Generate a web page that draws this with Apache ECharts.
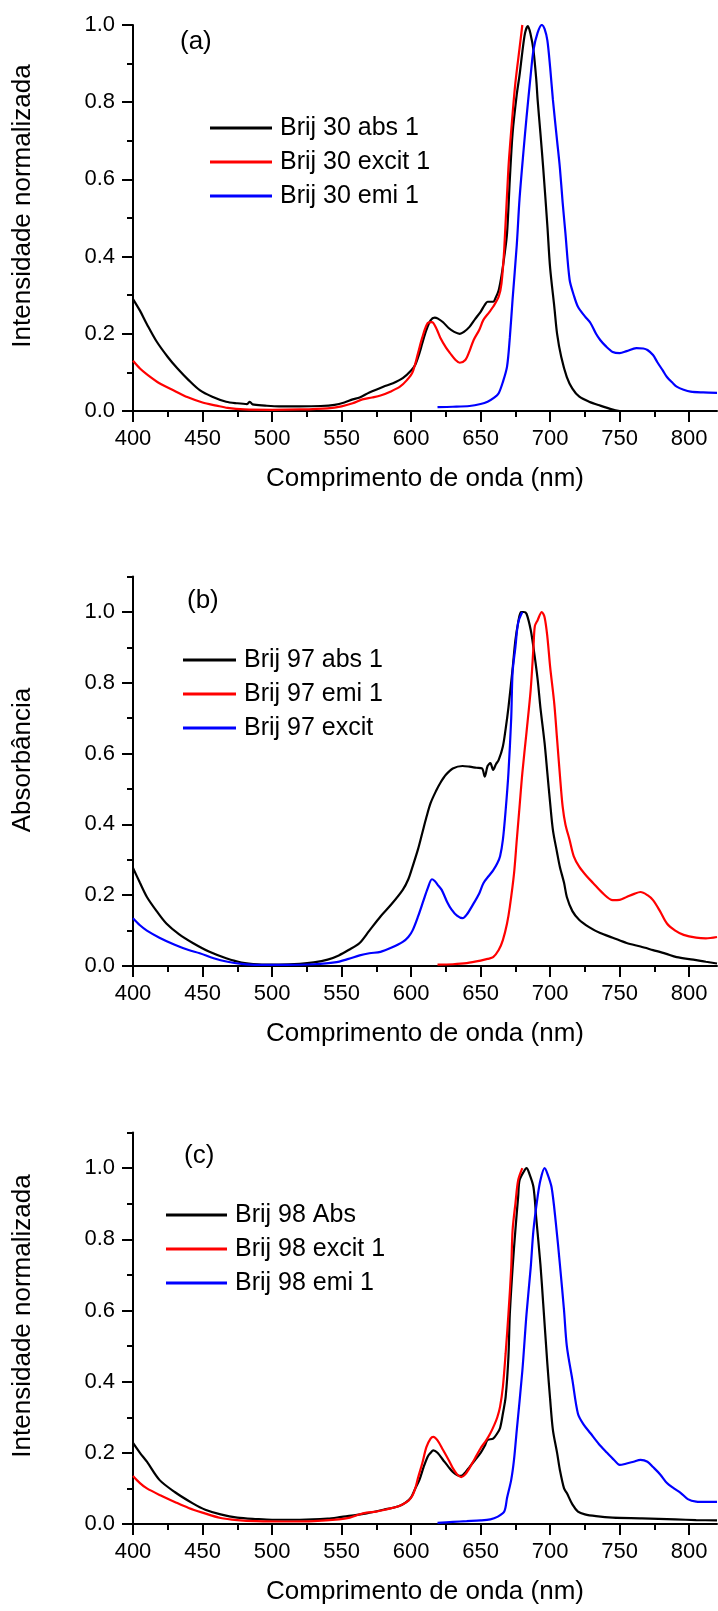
<!DOCTYPE html>
<html>
<head>
<meta charset="utf-8">
<script src="https://cdn.jsdelivr.net/npm/echarts@6/dist/echarts.min.js"></script>
<style>
html,body{margin:0;padding:0;background:#fff}
#main{width:718px;height:1611px}
</style>
</head>
<body>
<div id="main"></div>
<script>
// ---- tick positions
var xTicks = [400, 450, 500, 550, 600, 650, 700, 750, 800];
var xMinor = [425, 475, 525, 575, 625, 675, 725, 775];
var yTicks = [0, 0.2, 0.4, 0.6, 0.8, 1.0];
var yMinorA = [0.1, 0.3, 0.5, 0.7, 0.9];
var yMinorBC = [0.1, 0.3, 0.5, 0.7, 0.9, 1.1];

// ---- panel (a) Brij 30
var absA = [[400,0.29],[405,0.26],[410,0.225],[417,0.18],[425,0.14],[432,0.11],[440,0.08],[448,0.054],[457,0.037],[467,0.024],[475,0.02],[482,0.018],[484,0.024],[486,0.017],[495,0.014],[505,0.012],[520,0.012],[535,0.013],[545,0.016],[552,0.022],[558,0.03],[563,0.035],[570,0.048],[580,0.063],[587,0.072],[594,0.085],[600,0.105],[603,0.12],[606,0.15],[608,0.175],[611,0.21],[614,0.235],[617,0.242],[619,0.24],[623,0.23],[627,0.215],[631,0.205],[635,0.2],[638,0.205],[642,0.218],[646,0.238],[650,0.257],[653,0.275],[655,0.283],[659,0.283],[661,0.295],[663,0.313],[665,0.35],[667,0.4],[669,0.46],[671,0.6],[673,0.72],[676,0.82],[678,0.87],[680,0.93],[682,0.98],[684,0.997],[686,0.975],[688,0.935],[690,0.86],[691,0.806],[693,0.72],[695,0.63],[698,0.48],[700,0.37],[703,0.27],[705,0.2],[708,0.14],[712,0.088],[716,0.058],[721,0.037],[728,0.024],[736,0.014],[745,0.004],[750,0.0]];
var excA = [[400,0.13],[405,0.11],[410,0.095],[419,0.072],[430,0.052],[439,0.036],[450,0.022],[460,0.014],[468,0.008],[480,0.004],[500,0.003],[520,0.004],[540,0.007],[550,0.012],[558,0.02],[565,0.03],[572,0.035],[578,0.04],[585,0.05],[592,0.063],[597,0.08],[601,0.1],[605,0.15],[608,0.19],[612,0.228],[615,0.23],[618,0.215],[621,0.19],[625,0.165],[628,0.15],[632,0.132],[635,0.125],[639,0.132],[642,0.155],[645,0.184],[649,0.21],[652,0.236],[656,0.255],[659,0.27],[663,0.296],[665,0.33],[667,0.42],[670,0.63],[673,0.77],[675,0.85],[678,0.94],[680,1.0]];
var emiA = [[619,0.01],[630,0.011],[642,0.013],[650,0.018],[655,0.024],[660,0.035],[663,0.046],[666,0.075],[669,0.115],[671,0.19],[673,0.29],[676,0.43],[678,0.55],[681,0.68],[683,0.76],[686,0.87],[688,0.935],[691,0.98],[694,1.0],[696,0.99],[698,0.96],[700,0.89],[702,0.806],[705,0.7],[707,0.63],[709,0.54],[711,0.46],[714,0.34],[717,0.3],[720,0.27],[725,0.245],[729,0.228],[733,0.2],[736,0.184],[740,0.168],[745,0.153],[750,0.15],[755,0.155],[762,0.163],[767,0.162],[770,0.158],[774,0.145],[777,0.127],[781,0.105],[784,0.088],[788,0.073],[791,0.063],[796,0.055],[801,0.05],[810,0.048],[820,0.047]];

// ---- panel (b) Brij 97
var absB = [[400,0.277],[405,0.235],[410,0.195],[417,0.155],[424,0.12],[433,0.09],[443,0.065],[455,0.04],[467,0.022],[478,0.01],[490,0.005],[505,0.004],[520,0.006],[530,0.01],[540,0.018],[548,0.03],[555,0.045],[563,0.065],[570,0.1],[578,0.14],[586,0.175],[594,0.215],[598,0.245],[601,0.28],[605,0.33],[608,0.375],[611,0.42],[614,0.46],[618,0.495],[621,0.517],[625,0.54],[630,0.558],[637,0.565],[642,0.563],[647,0.56],[651,0.558],[653,0.535],[655,0.565],[657,0.573],[659,0.554],[661,0.57],[663,0.582],[666,0.62],[668,0.67],[670,0.73],[673,0.84],[675,0.92],[677,0.97],[679,1.0],[681,1.0],[683,0.995],[686,0.95],[688,0.9],[691,0.81],[693,0.73],[696,0.63],[698,0.545],[700,0.46],[702,0.384],[705,0.32],[707,0.28],[710,0.235],[712,0.195],[716,0.155],[721,0.13],[728,0.11],[736,0.093],[745,0.08],[755,0.065],[765,0.055],[774,0.045],[783,0.035],[791,0.025],[803,0.018],[812,0.012],[820,0.007]];
var emiB = [[619,0.004],[630,0.005],[640,0.008],[650,0.015],[655,0.02],[659,0.025],[663,0.045],[666,0.073],[669,0.12],[671,0.167],[674,0.26],[676,0.356],[678,0.45],[680,0.545],[683,0.66],[686,0.78],[688,0.9],[689,0.96],[691,0.977],[694,1.0],[696,0.985],[698,0.93],[700,0.845],[703,0.74],[705,0.64],[707,0.54],[709,0.45],[711,0.4],[714,0.356],[717,0.31],[721,0.28],[726,0.255],[731,0.234],[738,0.205],[745,0.186],[750,0.187],[755,0.195],[760,0.203],[765,0.209],[770,0.2],[774,0.186],[779,0.155],[784,0.12],[790,0.1],[796,0.088],[805,0.08],[812,0.078],[820,0.082]];
var excB = [[400,0.135],[405,0.115],[410,0.1],[419,0.08],[430,0.06],[440,0.045],[448,0.036],[458,0.022],[468,0.012],[478,0.006],[490,0.003],[510,0.003],[530,0.005],[545,0.01],[555,0.02],[563,0.03],[570,0.036],[578,0.04],[586,0.052],[594,0.068],[598,0.082],[601,0.1],[605,0.14],[609,0.186],[612,0.22],[615,0.245],[617,0.24],[619,0.23],[622,0.215],[626,0.18],[629,0.16],[633,0.142],[637,0.135],[640,0.145],[645,0.177],[649,0.205],[652,0.234],[656,0.255],[659,0.27],[662,0.29],[664,0.31],[666,0.356],[668,0.44],[670,0.545],[672,0.7],[673,0.83],[675,0.9],[677,0.97],[680,1.0]];

// ---- panel (c) Brij 98
var absC = [[400,0.228],[405,0.2],[410,0.175],[419,0.124],[430,0.09],[443,0.058],[452,0.04],[463,0.027],[475,0.018],[489,0.014],[500,0.012],[520,0.012],[540,0.015],[550,0.02],[560,0.025],[568,0.03],[580,0.04],[591,0.05],[596,0.06],[600,0.075],[603,0.1],[606,0.124],[609,0.16],[612,0.19],[614,0.2],[616,0.207],[619,0.2],[623,0.18],[627,0.16],[630,0.146],[633,0.138],[636,0.135],[639,0.145],[642,0.16],[646,0.18],[650,0.2],[653,0.22],[655,0.236],[659,0.24],[662,0.255],[664,0.27],[666,0.31],[668,0.357],[670,0.47],[671,0.59],[673,0.72],[675,0.826],[677,0.92],[678,0.966],[681,0.99],[683,1.0],[685,0.985],[688,0.947],[690,0.86],[693,0.73],[695,0.62],[698,0.45],[700,0.35],[702,0.264],[705,0.2],[707,0.152],[710,0.1],[712,0.087],[716,0.055],[720,0.035],[725,0.027],[733,0.022],[745,0.018],[766,0.016],[790,0.013],[805,0.011],[820,0.01]];
var excC = [[400,0.135],[405,0.115],[410,0.1],[420,0.08],[430,0.062],[440,0.045],[450,0.032],[463,0.017],[475,0.011],[489,0.008],[510,0.007],[530,0.008],[548,0.013],[556,0.018],[562,0.026],[568,0.032],[575,0.035],[583,0.042],[591,0.05],[598,0.065],[601,0.08],[603,0.1],[605,0.13],[608,0.17],[611,0.216],[614,0.24],[616,0.245],[619,0.235],[623,0.208],[627,0.18],[630,0.157],[633,0.14],[636,0.132],[639,0.14],[642,0.157],[646,0.185],[650,0.213],[654,0.235],[657,0.255],[660,0.28],[662,0.3],[664,0.33],[666,0.385],[668,0.48],[670,0.59],[672,0.72],[673,0.826],[675,0.9],[677,0.966],[680,1.0]];
var emiC = [[619,0.003],[630,0.006],[640,0.008],[650,0.01],[657,0.013],[662,0.02],[667,0.035],[669,0.073],[672,0.124],[674,0.18],[676,0.264],[680,0.43],[683,0.59],[686,0.72],[688,0.826],[691,0.92],[693,0.966],[696,1.0],[698,0.985],[701,0.947],[704,0.85],[707,0.73],[710,0.6],[712,0.5],[716,0.405],[720,0.31],[724,0.28],[729,0.255],[735,0.225],[741,0.2],[746,0.18],[750,0.166],[755,0.17],[760,0.175],[765,0.18],[770,0.175],[774,0.16],[779,0.14],[784,0.115],[789,0.1],[794,0.087],[799,0.07],[805,0.063],[812,0.062],[820,0.062]];

var FONT = 'Liberation Sans, Arial, sans-serif';

// one entry per panel
var panels = [
    {tag: '(a)', tagPos: [180, 29], yName: 'Intensidade normalizada', yNameY: 206, top: 25, h: 386, ymax: 1.0, yMinor: yMinorA,
     legendPos: [210, 115], iconW: 62,
     series: [['Brij 30 abs 1', '#000000', absA], ['Brij 30 excit 1', '#ff0000', excA], ['Brij 30 emi 1', '#0000ff', emiA]]},
    {tag: '(b)', tagPos: [187, 588], yName: 'Absorbância', yNameY: 760, top: 576.6, h: 389.4, ymax: 1.1, yMinor: yMinorBC,
     legendPos: [183, 647], iconW: 53,
     series: [['Brij 97 abs 1', '#000000', absB], ['Brij 97 emi 1', '#ff0000', emiB], ['Brij 97 excit', '#0000ff', excB]]},
    {tag: '(c)', tagPos: [184, 1143], yName: 'Intensidade normalizada', yNameY: 1316, top: 1132.6, h: 391.4, ymax: 1.1, yMinor: yMinorBC,
     legendPos: [166, 1202], iconW: 61,
     series: [['Brij 98 Abs', '#000000', absC], ['Brij 98 excit 1', '#ff0000', excC], ['Brij 98 emi 1', '#0000ff', emiC]]}
];

function buildOption(){
    var grid = [], xAxis = [], yAxis = [], series = [], legend = [], title = [], graphic = [];
    var line = {show: true, lineStyle: {color: '#000', width: 2}};
    panels.forEach(function(p, i){
        grid.push({left: 133, top: p.top, width: 584, height: p.h});
        // main x axis: labels + long ticks
        xAxis.push({
            type: 'value', gridIndex: i, min: 400, max: 820,
            axisLine: line, splitLine: {show: false},
            axisTick: {show: true, length: 11, lineStyle: {width: 2, color: '#000'}, customValues: xTicks},
            axisLabel: {fontSize: 22, color: '#000', fontFamily: FONT, margin: 17, customValues: xTicks},
            name: 'Comprimento de onda (nm)', nameLocation: 'middle', nameGap: 55,
            nameTextStyle: {fontSize: 26, color: '#000', fontFamily: FONT}
        });
        // minor x ticks
        xAxis.push({
            type: 'value', gridIndex: i, min: 400, max: 820, position: 'bottom',
            axisLine: {show: false}, splitLine: {show: false}, axisLabel: {show: false},
            axisTick: {show: true, length: 6, lineStyle: {width: 2, color: '#000'}, customValues: xMinor}
        });
        yAxis.push({
            type: 'value', gridIndex: i, min: 0, max: p.ymax,
            axisLine: line, splitLine: {show: false},
            axisTick: {show: true, length: 11, lineStyle: {width: 2, color: '#000'}, customValues: yTicks},
            axisLabel: {fontSize: 22, color: '#000', fontFamily: FONT, margin: 18, customValues: yTicks,
                formatter: function(v){ return v.toFixed(1); }}
        });
        yAxis.push({
            type: 'value', gridIndex: i, min: 0, max: p.ymax, position: 'left',
            axisLine: {show: false}, splitLine: {show: false}, axisLabel: {show: false},
            axisTick: {show: true, length: 6, lineStyle: {width: 2, color: '#000'}, customValues: p.yMinor}
        });
        p.series.forEach(function(s){
            series.push({
                name: s[0], type: 'line', xAxisIndex: i * 2, yAxisIndex: i * 2,
                data: s[2], color: s[1], symbol: 'none', showSymbol: false,
                smooth: 0.3, lineStyle: {width: 2.2, color: s[1]}, animation: false
            });
        });
        legend.push({
            data: p.series.map(function(s){ return s[0]; }),
            orient: 'vertical', left: p.legendPos[0], top: p.legendPos[1], padding: 0,
            icon: 'rect', itemWidth: p.iconW, itemHeight: 3, itemGap: 8,
            textStyle: {fontSize: 25, lineHeight: 26, color: '#000', fontFamily: FONT, padding: [0, 0, 0, 3]}
        });
        title.push({
            text: p.tag, left: p.tagPos[0], top: p.tagPos[1], padding: 0,
            textStyle: {fontSize: 26, fontWeight: 'normal', color: '#000', fontFamily: FONT}
        });
        // rotated y axis title
        graphic.push({
            type: 'text', x: 23, y: p.yNameY, rotation: Math.PI / 2,
            style: {text: p.yName, fill: '#000', font: '26px ' + FONT,
                align: 'center', verticalAlign: 'middle',
                textAlign: 'center', textVerticalAlign: 'middle'}
        });
    });
    return {
        backgroundColor: '#fff', animation: false,
        title: title, legend: legend, grid: grid, graphic: graphic,
        xAxis: xAxis, yAxis: yAxis, series: series
    };
}

var myChart = echarts.init(document.getElementById('main'));
myChart.setOption(buildOption());
</script>
</body>
</html>
